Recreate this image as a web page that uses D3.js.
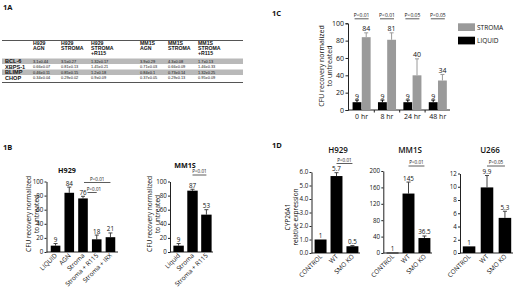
<!DOCTYPE html>
<html><head><meta charset="utf-8">
<script src="https://cdn.jsdelivr.net/npm/d3@7"></script>
<style>body{margin:0;background:#fff} svg{display:block} text{font-family:"Open Sans",sans-serif;fill:#111}</style>
</head><body><svg id="c" width="520" height="297"></svg>
<script>
// ---------- DATA ----------
// 1A table
const tableCols = ["H929|AGN","H929|STROMA","H929|STROMA|+R115","MM1S|AGN","MM1S|STROMA","MM1S|STROMA|+R115"];
const tableRows = ["BCL-6","XBPS-1","BLIMP","CHOP"];
const tableBCL6  = ["3.1±0.44","3.5±0.27","1.32±0.17","3.9±0.29","4.3±0.08","1.7±0.13"];
const tableXBPS1 = ["0.66±0.07","0.81±0.13","1.45±0.21","0.71±0.03","0.66±0.09","1.46±0.33"];
const tableBLIMP = ["0.46±0.11","0.85±0.15","1.2±0.18","0.84±0.1","0.73±0.14","1.32±0.25"];
const tableCHOP  = ["0.34±0.04","0.29±0.02","0.9±0.09","0.37±0.05","0.29±0.13","0.95±0.09"];

// 1C
const timeCats = ["0 hr","8 hr","24 hr","48 hr"];
const seriesNames = ["LIQUID","STROMA"];
const liquidVals = [9,9,9,9];
const liquidErr = [2.5,2.5,2.5,2.5];
const stromaVals = [84,81,40,34];
const stromaErr = [5,8,19,7];
const timePvals = ["P<0.01","P<0.01","P<0.05","P<0.05"];
const ticks100 = [0,20,40,60,80,100];

// 1B
const b1Cats = ["LIQUID","AGN","Stroma","Stroma + R115","Stroma + IRX"];
const b1Vals = [9,84,76,18,21];
const b1Err = [3,8,3,6,6];
const b2Cats = ["Liquid","Stroma","Stroma + R115"];
const b2Vals = [9,87,53];
const b2Err = [3,2,7];

// 1D
const dCats = ["CONTROL","WT","SMO KO"];
const d1Vals = [1,5.7,0.5];
const d1Err = [0,0.25,0.05];
const d1Labels = ["1","5.7","0.5"];
const d1Ticks = [0,1,2,3,4,5,6];
const d2Vals = [1,145,36.5];
const d2Err = [0,28,5];
const d2Labels = ["1","145","36.5"];
const d2Ticks = [0,40,80,120,160,200];
const d3Vals = [1,9.9,5.3];
const d3Err = [0,1.8,1.0];
const d3Labels = ["1","9.9","5.3"];
const d3Ticks = [0,2,4,6,8,10,12];

// ---------- DRAW ----------
const svg = d3.select("#c");
const INK = "#111";

function panelLabel(t,x,y){
  svg.append("text").attr("x",x).attr("y",y).attr("font-size",7.5).attr("font-weight","bold").attr("fill",INK).text(t);
}
panelLabel("1A",3,9.5);
panelLabel("1C",272,16);
panelLabel("1B",3,150);
panelLabel("1D",272,147.5);

// ---- 1A table ----
(function(){
  const g = svg.append("g");
  const tf = "Liberation Sans, Arial, sans-serif";
  const colX = d3.scaleOrdinal().domain(tableCols).range([33,61,91,140,168,198]);
  const rowY = d3.scaleBand().domain(tableRows).range([58.5,80.5]);
  const tableData = [tableBCL6,tableXBPS1,tableBLIMP,tableCHOP];
  g.append("line").attr("x1",2).attr("x2",243).attr("y1",40.5).attr("y2",40.5).attr("stroke","#555").attr("stroke-width",1);
  g.append("line").attr("x1",2).attr("x2",243).attr("y1",82.5).attr("y2",82.5).attr("stroke","#555").attr("stroke-width",1);
  tableRows.forEach((r,i)=>{
    if(i%2===0) g.append("rect").attr("x",2).attr("width",241).attr("y",rowY(r)).attr("height",rowY.bandwidth()).attr("fill","#b9b9b9");
    g.append("text").attr("x",5).attr("y",rowY(r)+rowY.bandwidth()/2+2).attr("font-size",5.6).attr("font-weight","bold")
      .style("font-family",tf).attr("fill","#222").text(r);
    tableData[i].forEach((v,j)=>{
      g.append("text").attr("x",colX(tableCols[j])).attr("y",rowY(r)+rowY.bandwidth()/2+1.5).attr("font-size",3.9)
        .style("font-family",tf).attr("fill","#333").text(v);
    });
  });
  tableCols.forEach(c=>{
    c.split("|").forEach((l,k)=>{
      g.append("text").attr("x",colX(c)).attr("y",44.5+k*5.3).attr("font-size",5.2).attr("font-weight","bold")
        .style("font-family",tf).attr("fill","#333").text(l);
    });
  });
})();

// ---- 1C ----
(function(){
  const g = svg.append("g");
  const y = d3.scaleLinear().domain([0,100]).range([110,23.3]);
  const x0 = d3.scalePoint().domain(timeCats).range([361.6,437.8]);
  const x1 = d3.scaleBand().domain(seriesNames).range([-9.4,9.4]).padding(0.04);
  const color = d3.scaleOrdinal().domain(seriesNames).range(["#000","#9a9a9a"]);
  const vals = {LIQUID:liquidVals, STROMA:stromaVals};
  const errs = {LIQUID:liquidErr, STROMA:stromaErr};
  g.append("g").attr("transform","translate(348,0)")
    .call(d3.axisLeft(y).tickValues(ticks100).tickSize(2.5).tickPadding(1.5))
    .call(a=>{a.selectAll("text").attr("font-size",7).attr("fill",INK).style("font-family","Open Sans");a.selectAll("line,path").attr("stroke","#222");});
  const xa = g.append("g").attr("transform","translate(0,110)");
  xa.append("line").attr("x1",348).attr("x2",450).attr("stroke","#222");
  timeCats.forEach((t,i)=>{
    if(i>0) xa.append("line").attr("x1",x0(t)-12.7).attr("x2",x0(t)-12.7).attr("y2",2.5).attr("stroke","#222");
    xa.append("text").attr("x",x0(t)).attr("y",9).attr("text-anchor","middle").attr("font-size",7).attr("fill",INK).text(t);
  });
  seriesNames.forEach(s=>{
    timeCats.forEach((t,i)=>{
      const cx = x0(t)+x1(s);
      const v = vals[s][i], e = errs[s][i];
      const mid = cx+x1.bandwidth()/2;
      g.append("line").attr("x1",mid).attr("x2",mid)
        .attr("y1",y(v)).attr("y2",y(v+e)).attr("stroke",color(s)).attr("stroke-width",1);
      g.append("line").attr("x1",mid-2).attr("x2",mid+2)
        .attr("y1",y(v+e)).attr("y2",y(v+e)).attr("stroke",color(s)).attr("stroke-width",1);
      g.append("rect").attr("x",cx).attr("width",x1.bandwidth()).attr("y",y(v)).attr("height",y(0)-y(v)).attr("fill",color(s));
      g.append("text").attr("x",mid).attr("y",y(v+e)-1.5).attr("text-anchor","middle").attr("font-size",7).attr("fill",INK).text(v);
    });
  });
  timeCats.forEach((t,i)=>{
    g.append("text").attr("x",x0(t)).attr("y",16.5).attr("text-anchor","middle").attr("font-size",5).attr("fill",INK).text(timePvals[i]);
    g.append("line").attr("x1",x0(t)-7).attr("x2",x0(t)+7).attr("y1",18.8).attr("y2",18.8).attr("stroke","#333").attr("stroke-width",0.8);
  });
  const yt = g.append("text").attr("transform","translate(325,66) rotate(-90)").attr("text-anchor","middle").attr("font-size",7).attr("fill",INK);
  yt.append("tspan").attr("x",0).attr("dy",-1).text("CFU recovery normalized");
  yt.append("tspan").attr("x",0).attr("dy",7.5).text("to untreated");
  seriesNames.slice().reverse().forEach((s,i)=>{
    g.append("rect").attr("x",458).attr("y",23.3+i*13.4).attr("width",17).attr("height",7.7).attr("fill",color(s));
    g.append("text").attr("x",477).attr("y",29.8+i*13.4).attr("font-size",6.5).attr("fill",INK).text(s);
  });
})();

// ---- generic bar panel ----
function barPanel(o){
  const g = svg.append("g");
  const y = d3.scaleLinear().domain(o.yDomain).range(o.yRange);
  const x = d3.scaleBand().domain(o.cats).range(o.xRange).paddingInner(o.pi).paddingOuter(o.po);
  g.append("g").attr("transform",`translate(${o.axisX},0)`)
    .call(d3.axisLeft(y).tickValues(o.ticks).tickSize(2).tickPadding(1.2).tickSizeOuter(0))
    .call(a=>{a.selectAll("text").attr("font-size",6.2).attr("fill",INK).style("font-family","Open Sans");a.selectAll("line,path").attr("stroke","#222");});
  g.append("line").attr("x1",o.axisX).attr("x2",o.xRange[1]).attr("y1",y(0)).attr("y2",y(0)).attr("stroke","#222");
  o.cats.forEach((c,i)=>{
    const v=o.vals[i], e=o.errs[i], cx=x(c)+x.bandwidth()/2;
    if(e>0){
      g.append("line").attr("x1",cx).attr("x2",cx).attr("y1",y(v)).attr("y2",y(v+e)).attr("stroke","#444");
      g.append("line").attr("x1",cx-2).attr("x2",cx+2).attr("y1",y(v+e)).attr("y2",y(v+e)).attr("stroke","#444");
    }
    g.append("rect").attr("x",x(c)).attr("width",x.bandwidth()).attr("y",y(v)).attr("height",Math.max(0.8,y(0)-y(v))).attr("fill","#000");
    g.append("text").attr("x",cx).attr("y",y(v+e)-1.5).attr("text-anchor","middle").attr("font-size",6.3).attr("fill",INK).text(o.labels?o.labels[i]:v);
    g.append("text").attr("transform",`translate(${cx+2},${y(0)+4}) rotate(-45)`).attr("text-anchor","end")
      .attr("font-size",6.4).attr("fill",INK).text(c);
  });
  g.append("text").attr("x",o.titleX).attr("y",o.titleY).attr("text-anchor","middle").attr("font-size",o.titleSize||8)
    .attr("font-weight",o.titleWeight||600).attr("fill",INK).text(o.title);
  const yt = g.append("text").attr("transform",`translate(${o.ytX},${o.ytY}) rotate(-90)`).attr("text-anchor","middle").attr("font-size",6.5).attr("fill",INK);
  yt.append("tspan").attr("x",0).attr("dy",0).text(o.yt1);
  yt.append("tspan").attr("x",0).attr("dy",7.6).text(o.yt2);
  (o.brackets||[]).forEach(b=>{
    const xa=x(o.cats[b.a])+x.bandwidth()/2+(b.da||0), xb=x(o.cats[b.b])+x.bandwidth()/2+(b.db||0);
    g.append("line").attr("x1",xa).attr("x2",xb).attr("y1",b.y).attr("y2",b.y).attr("stroke","#333").attr("stroke-width",0.8);
    g.append("text").attr("x",(xa+xb)/2+(b.dt||0)).attr("y",b.y-2).attr("text-anchor","middle").attr("font-size",4.6).attr("fill",INK).text(b.t);
  });
}

barPanel({cats:b1Cats, vals:b1Vals, errs:b1Err, yDomain:[0,100], yRange:[252,181.5], ticks:ticks100,
  xRange:[48,118], pi:0.3, po:0.2, axisX:46.5, title:"H929", titleX:67, titleY:172.5, titleWeight:"bold", titleSize:7.2,
  ytX:31, ytY:214, yt1:"CFU recovery normalized", yt2:"to untreated",
  brackets:[{a:2,b:4,y:182.5,t:"P<0.01",da:1},{a:2,b:3,y:192.5,t:"P<0.01",da:4.5,dt:1.8}]});
barPanel({cats:b2Cats, vals:b2Vals, errs:b2Err, yDomain:[0,100], yRange:[252,181.5], ticks:ticks100,
  xRange:[172,213], pi:0.25, po:0.1, axisX:170, title:"MM1S", titleX:185, titleY:167.5, titleWeight:"bold", titleSize:7.2,
  ytX:152, ytY:214, yt1:"CFU recovery normalized", yt2:"to untreated",
  brackets:[{a:1,b:2,y:175,t:"P<0.01"}]});

barPanel({cats:dCats, vals:d1Vals, errs:d1Err, labels:d1Labels, yDomain:[0,6], yRange:[253,172], ticks:d1Ticks,
  xRange:[313,360], pi:0.25, po:0.1, axisX:311.5, title:"H929", titleX:338, titleY:152.5,
  ytX:290, ytY:217, yt1:"CYP26A1", yt2:"relative expression",
  brackets:[{a:1,b:2,y:163.5,t:"P<0.01"}]});
barPanel({cats:dCats, vals:d2Vals, errs:d2Err, labels:d2Labels, yDomain:[0,200], yRange:[253,171], ticks:d2Ticks,
  xRange:[385,432], pi:0.25, po:0.1, axisX:383.3, title:"MM1S", titleX:410, titleY:152.5,
  ytX:-100, ytY:0, yt1:"", yt2:"",
  brackets:[{a:1,b:2,y:166,t:"P<0.01"}]});
barPanel({cats:dCats, vals:d3Vals, errs:d3Err, labels:d3Labels, yDomain:[0,12], yRange:[253,173.5], ticks:d3Ticks,
  xRange:[461,513], pi:0.3, po:0.1, axisX:460, title:"U266", titleX:490, titleY:152.5,
  ytX:-100, ytY:0, yt1:"", yt2:"",
  brackets:[{a:1,b:2,y:166,t:"P<0.05"}]});
</script></body></html>
